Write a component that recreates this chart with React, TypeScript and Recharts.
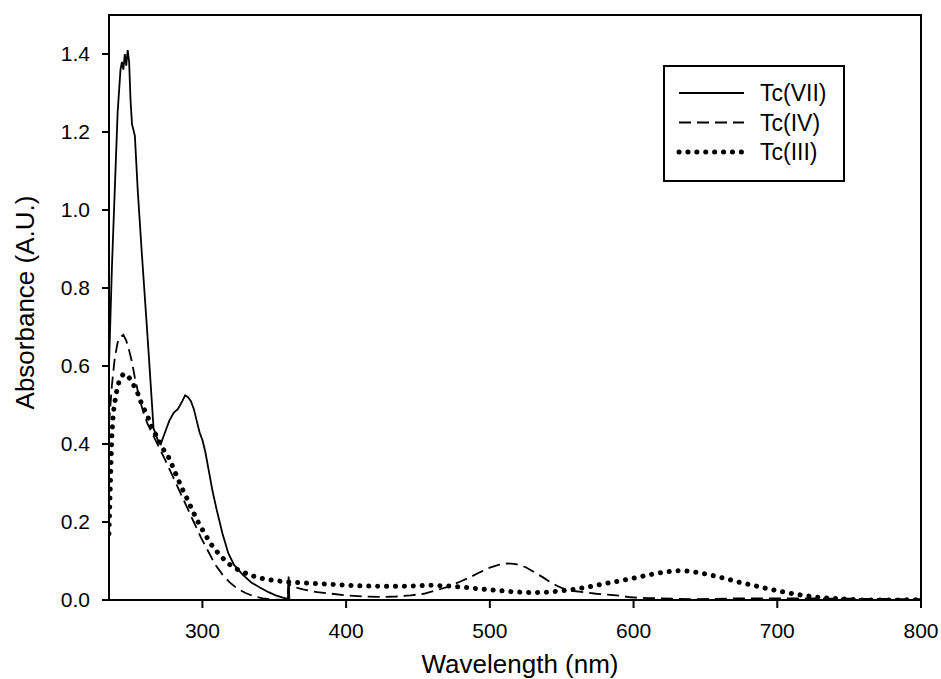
import React from 'react';
import { LineChart, Line, XAxis, YAxis, ReferenceArea, Legend } from 'recharts';

const seriesNames = ['Tc(VII)', 'Tc(IV)', 'Tc(III)'];
const xTicks = [300, 400, 500, 600, 700, 800];
const yTicks = [0, 0.2, 0.4, 0.6, 0.8, 1.0, 1.2, 1.4];

const tc7Wavelength = [235, 237, 239, 241, 243, 244, 245, 246, 247, 248, 249, 250, 251, 253, 255, 258, 261, 263, 266, 269, 271, 274, 277, 280, 283, 286, 288, 290, 292, 294, 296, 298, 300, 302, 305, 307, 310, 314, 318, 322, 328, 334, 340, 346, 351, 356, 359.5, 360, 360.5, 400, 500, 600, 700, 800];
const tc7Absorbance = [0.6, 0.85, 1.05, 1.25, 1.36, 1.38, 1.36, 1.4, 1.37, 1.41, 1.38, 1.28, 1.22, 1.19, 1.05, 0.88, 0.72, 0.61, 0.44, 0.41, 0.4, 0.43, 0.46, 0.48, 0.49, 0.51, 0.525, 0.52, 0.51, 0.49, 0.46, 0.43, 0.41, 0.38, 0.32, 0.28, 0.23, 0.17, 0.12, 0.09, 0.065, 0.045, 0.032, 0.02, 0.012, 0.006, 0.003, 0.06, 0.0, 0.0, 0.0, 0.0, 0.0, 0.0];

const tc4Wavelength = [235, 237, 239, 241, 243, 245, 247, 249, 251, 253, 256, 259, 262, 266, 270, 274, 279, 284, 289, 294, 299, 304, 309, 314, 319, 324, 330, 336, 342, 350, 359, 360, 365, 370, 380, 390, 400, 412, 425, 435, 445, 454, 462, 470, 478, 486, 493, 500, 506, 512, 518, 525, 531, 537, 542, 547, 552, 556, 565, 574, 588, 598, 610, 640, 672, 720, 760, 800];
const tc4Absorbance = [0.45, 0.55, 0.62, 0.66, 0.675, 0.68, 0.665, 0.64, 0.61, 0.57, 0.52, 0.48, 0.45, 0.42, 0.39, 0.36, 0.32, 0.28, 0.24, 0.2, 0.16, 0.125, 0.09, 0.065, 0.045, 0.03, 0.018, 0.009, 0.004, 0.001, 0.0, 0.04, 0.032, 0.027, 0.02, 0.016, 0.012, 0.009, 0.008, 0.009, 0.012, 0.016, 0.024, 0.033, 0.045, 0.058, 0.071, 0.083, 0.09, 0.094, 0.092, 0.084, 0.071, 0.058, 0.046, 0.036, 0.028, 0.024, 0.02, 0.016, 0.012, 0.007, 0.005, 0.002, 0.004, 0.004, 0.003, 0.002];

const tc3Wavelength = [235, 236, 237, 238, 240, 242, 245, 248, 251, 255, 258, 262, 265, 269, 272, 276, 279, 283, 286, 290, 293, 297, 300, 304, 307, 311, 316, 320, 326, 333, 340, 350, 360, 370, 380, 390, 400, 411, 423, 435, 447, 458, 470, 481, 492, 504, 516, 528, 540, 551, 560, 569, 580, 592, 600, 610, 619, 625, 631, 638, 647, 656, 665, 674, 684, 692, 700, 708, 716, 726, 735, 748, 760, 780, 800];
const tc3Absorbance = [0.17, 0.3, 0.42, 0.48, 0.53, 0.56, 0.58, 0.575, 0.56, 0.53, 0.5, 0.47, 0.44, 0.415, 0.39, 0.37, 0.345, 0.31, 0.285, 0.255, 0.23, 0.2, 0.18, 0.155, 0.138, 0.12, 0.1, 0.088, 0.075, 0.064, 0.056, 0.05, 0.046, 0.044, 0.042, 0.04, 0.038, 0.036, 0.035, 0.035, 0.036, 0.038, 0.036, 0.033, 0.029, 0.025, 0.021, 0.019, 0.02, 0.024, 0.028, 0.034, 0.042, 0.05, 0.056, 0.064, 0.07, 0.073, 0.075, 0.074, 0.069, 0.062, 0.054, 0.045, 0.037, 0.03, 0.024, 0.018, 0.013, 0.008, 0.005, 0.002, 0.0, 0.0, 0.001];

const toRows = (xs: number[], ys: number[]) => xs.map((x, i) => ({ wl: x, abs: ys[i] }));
const tc7Rows = toRows(tc7Wavelength, tc7Absorbance);
const tc4Rows = toRows(tc4Wavelength, tc4Absorbance);
const tc3Rows = toRows(tc3Wavelength, tc3Absorbance);

const FONT = '"Liberation Sans", Arial, sans-serif';

const seriesStyles = [
  { width: 1.8, dash: undefined as string | undefined, cap: 'butt' as const },
  { width: 1.8, dash: '12 6', cap: 'butt' as const },
  { width: 5, dash: '0.1 8.8', cap: 'round' as const },
];

const renderLegend = () => (
  <svg width={182} height={117} style={{ display: 'block' }}>
    <rect x={1} y={1} width={180} height={115} fill="#fff" stroke="#000" strokeWidth={2} />
    {seriesNames.map((name, i) => (
      <g key={name}>
        <line
          x1={16}
          x2={81}
          y1={28 + i * 29.5}
          y2={28 + i * 29.5}
          stroke="#000"
          strokeWidth={seriesStyles[i].width}
          strokeDasharray={seriesStyles[i].dash}
          strokeLinecap={seriesStyles[i].cap}
        />
        <text x={97} y={28 + i * 29.5} dominantBaseline="central" fontSize={23} fontFamily={FONT} fill="#000">
          {name}
        </text>
      </g>
    ))}
  </svg>
);

export default function App() {
  return (
    <div style={{ position: 'absolute', left: 0, top: 0, width: 941, height: 679, background: '#fff' }}>
      <LineChart width={941} height={679} margin={{ top: 15, right: 20, left: 0, bottom: 0 }}>
        <XAxis
          dataKey="wl"
          type="number"
          domain={[235, 800]}
          allowDataOverflow
          ticks={xTicks}
          tickSize={8}
          tickMargin={15}
          height={79}
          stroke="#000"
          strokeWidth={2}
          tick={{ fontSize: 21, fontFamily: FONT, fill: '#000' }}
          label={{
            content: (props: any) => {
              const vb = props.viewBox || {};
              return (
                <text x={vb.x + vb.width / 2 + 5} y={vb.y + 73} textAnchor="middle" fontSize={26} fontFamily={FONT} fill="#000">
                  Wavelength (nm)
                </text>
              );
            },
          }}
        />
        <YAxis
          type="number"
          domain={[0, 1.5]}
          allowDataOverflow
          ticks={yTicks}
          tickFormatter={(v: number) => v.toFixed(1)}
          tickSize={7}
          tickMargin={12}
          width={109}
          stroke="#000"
          strokeWidth={2}
          tick={{ fontSize: 21, fontFamily: FONT, fill: '#000' }}
          label={{
            content: (props: any) => {
              const vb = props.viewBox || {};
              const cx = vb.x + 34;
              const cy = vb.y + vb.height / 2 - 5;
              return (
                <text x={cx} y={cy} transform={`rotate(-90, ${cx}, ${cy})`} textAnchor="middle" fontSize={26} fontFamily={FONT} fill="#000">
                  Absorbance (A.U.)
                </text>
              );
            },
          }}
        />
        <ReferenceArea x1={235} x2={800} y1={0} y2={1.5} fill="none" stroke="#000" strokeWidth={2} ifOverflow="visible" />
        <Line data={tc7Rows} dataKey="abs" name={seriesNames[0]} type="linear" stroke="#000" strokeWidth={1.8} dot={false} isAnimationActive={false} />
        <Line data={tc4Rows} dataKey="abs" name={seriesNames[1]} type="linear" stroke="#000" strokeWidth={1.8} strokeDasharray="12 6" dot={false} isAnimationActive={false} />
        <Line data={tc3Rows} dataKey="abs" name={seriesNames[2]} type="linear" stroke="#000" strokeWidth={5} strokeDasharray="0.1 8.8" strokeLinecap="round" dot={false} isAnimationActive={false} />
        <Legend
          layout="vertical"
          align="center"
          verticalAlign="middle"
          content={renderLegend}
          wrapperStyle={{ position: 'absolute', left: 663, top: 65, width: 182, height: 117 }}
        />
      </LineChart>
    </div>
  );
}
